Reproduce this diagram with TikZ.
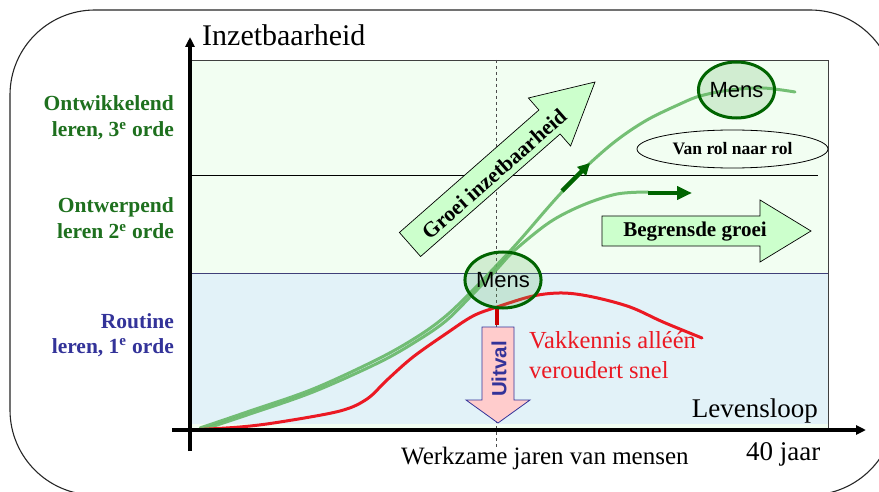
\documentclass[tikz,border=0pt]{standalone}
\usepackage{fontspec}
\setmainfont{Liberation Serif}
\newfontfamily\sansf{Liberation Sans}
\usetikzlibrary{shapes.geometric,arrows.meta}

\definecolor{lblgreen}{RGB}{30,112,30}
\definecolor{lblblue}{RGB}{51,51,153}
\definecolor{zonegreen}{RGB}{242,254,242}
\definecolor{zoneblue}{RGB}{226,242,248}
\definecolor{curvegreen}{RGB}{95,180,95}
\definecolor{darkgreen}{RGB}{0,100,0}
\definecolor{arrowfill}{RGB}{204,255,204}
\definecolor{pinkfill}{RGB}{255,204,204}
\definecolor{curvered}{RGB}{235,25,35}

\newcommand{\fsz}[1]{\fontsize{#1}{#1}\selectfont}

\begin{document}
\begin{tikzpicture}[x=1pt,y=-1pt,
  levellabel/.style={anchor=base east,inner sep=0,font=\fsz{21.5}\bfseries},
  axislabel/.style={inner sep=0},
  growth/.style={curvegreen,line width=3,opacity=0.85,line cap=round},
  bigarrow/.style={draw=black,line width=0.7,fill=arrowfill},
  mens/.style={ellipse,draw=darkgreen,line width=3,fill=curvegreen,fill opacity=0.22,
    text opacity=1,minimum width=72,minimum height=56,inner sep=0,font=\sansf\fsz{22}},
  trend/.style={darkgreen,line width=4.5}]

\useasboundingbox (0,0) rectangle (879,492);

% outer frame with large rounded corners
\begin{scope}
  \clip (0,0) rectangle (879,492);
  \draw[line width=1.1,black!85] [rounded corners=85pt] (10,10) rectangle (895,495);
\end{scope}

% learning zones
\fill[zonegreen] (190,60) rectangle (828,273);
\fill[zoneblue] (190,273) rectangle (828,424);
\fill[zonegreen] (190,424) rectangle (828,430);
\draw[black!75,line width=0.8] (190,60) -- (828,60) -- (828,430);
\draw[black,line width=0.8] (190,175) -- (818,175);
\draw[blue!30!black!75,line width=0.8] (190,273) -- (828,273);

% career midpoint marker
\coordinate (midtop) at (496,60);
\coordinate (midbot) at (496,447);
\draw[black!70,line width=0.8,dash pattern=on 3pt off 3pt] (midtop) -- (midbot);

% growth curves
\draw[growth] plot[smooth,tension=0.55] coordinates {(200,428) (247,412) (313,389) (380,358) (420,335) (447,315) (473,290) (497,265) (520,240) (545,211) (562,192) (588,165) (617,140) (647,120) (680,104) (700,96) (730,90) (763,88) (795,92)};
\draw[growth] plot[smooth,tension=0.55] coordinates {(205,429) (247,415) (313,392) (380,362) (420,339) (447,320) (473,294) (497,269) (515,250) (550,222) (583,205) (617,194) (648,192)};

% red curve: subject knowledge only
\draw[curvered,line width=3,line cap=round] plot[smooth,tension=0.55] coordinates {(190,430) (240,427) (280,422) (340,411) (367,399) (387,380) (413,357) (447,333) (473,316) (497,307) (533,296) (563,293) (593,297) (630,307) (663,322) (702,338)};
\draw[red!80!black,line width=4] (497,308) -- (497,325);

% trend arrows on the green curves
\coordinate (upA) at (562,191);
\coordinate (upB) at (590,163);
\coordinate (flatA) at (648,193);
\coordinate (flatB) at (692,193);
\draw[trend,-{Triangle[length=12pt,width=12pt]}] (upA) -- (upB);
\draw[trend,-{Triangle[length=15pt,width=13pt]}] (flatA) -- (flatB);

% growth arrow
\draw[bigarrow] (399.4,232.5) -- (538.9,110.0) -- (528.4,98.0) -- (595,82)
  -- (570.6,146.0) -- (560.1,134.0) -- (420.6,256.5) -- cycle;
\node[rotate=41.3,inner sep=0,font=\fsz{21.5}\bfseries] (groei) at (494,174) {Groei inzetbaarheid};

% limited growth arrow
\draw[bigarrow] (602,216) -- (760,216) -- (760,200) -- (811,231) -- (760,262)
  -- (760,246) -- (602,246) -- cycle;
\node[inner sep=0,font=\fsz{21}\bfseries] (begrensd) at (695,232) {Begrensde groei};

% drop-out arrow
\draw[draw=lblblue,line width=0.8,fill=pinkfill] (482,327) -- (514,327) -- (514,400)
  -- (530,400) -- (498,423) -- (466,400) -- (482,400) -- cycle;
\node[rotate=90,inner sep=0,text=lblblue,font=\sansf\bfseries\fsz{20.5}] (uitval) at (499,369) {Uitval};

% role ellipse
\node[ellipse,draw=black,line width=0.8,minimum width=191,minimum height=38,inner sep=0,
  font=\fsz{17.5}\bfseries] (rol) at (732.5,149) {Van rol naar rol};

% people
\node[mens] (mensmid) at (503,280) {Mens};
\node[mens] (menstop) at (736.5,90) {Mens};

% axes
\coordinate (ybot) at (190,451);
\coordinate (ytop) at (190,37);
\coordinate (xleft) at (172,430);
\coordinate (xright) at (866,430);
\draw[line width=3.5,-{Triangle[length=10pt,width=9pt]}] (ybot) -- (ytop);
\draw[line width=3.5,-{Triangle[length=10pt,width=9pt]}] (xleft) -- (xright);

% axis texts
\node[axislabel,anchor=base west,font=\fsz{30}] (inzet) at (202,46) {Inzetbaarheid};
\node[axislabel,anchor=base east,font=\fsz{27}] (leven) at (818,417) {Levensloop};
\node[axislabel,anchor=base west,font=\fsz{27}] (jaar) at (746,460) {40 jaar};
\node[axislabel,anchor=base west,font=\fsz{25}] (werk) at (401,464) {Werkzame jaren van mensen};

% red remark
\node[axislabel,anchor=base west,text=curvered,font=\fsz{24.5}] (vak1) at (529,348) {Vakkennis alléén};
\node[axislabel,anchor=base west,text=curvered,font=\fsz{24.5}] (vak2) at (529,378) {veroudert snel};

% learning levels
\node[levellabel,text=lblgreen] (l3a) at (174,111) {Ontwikkelend};
\node[levellabel,text=lblgreen] (l3b) at (174,137) {leren, 3\textsuperscript{e} orde};
\node[levellabel,text=lblgreen] (l2a) at (174,213) {Ontwerpend};
\node[levellabel,text=lblgreen] (l2b) at (174,239) {leren 2\textsuperscript{e} orde};
\node[levellabel,text=lblblue] (l1a) at (174,328) {Routine};
\node[levellabel,text=lblblue] (l1b) at (174,353) {leren, 1\textsuperscript{e} orde};

\end{tikzpicture}
\end{document}
